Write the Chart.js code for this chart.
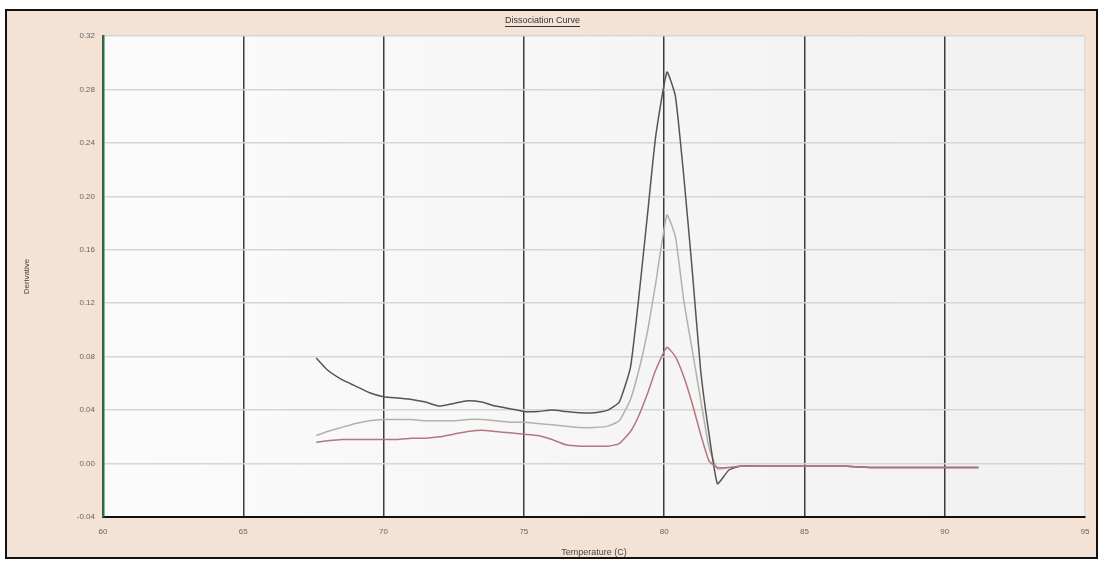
<!DOCTYPE html>
<html>
<head>
<meta charset="utf-8">
<script src="https://cdn.jsdelivr.net/npm/chart.js@4/dist/chart.umd.min.js"></script>
<style>
  html, body { margin: 0; padding: 0; background: #fff; }
  #wrap { width: 1104px; height: 569px; }
</style>
</head>
<body>
<div id="wrap"><canvas id="myChart" width="1104" height="569"></canvas></div>
<script>
// temperature readings (C), shared by all wells
const temperatures = [67.6, 68.0, 68.5, 69.0, 69.5, 70.0, 70.5, 71.0, 71.5, 72.0,
  72.5, 73.0, 73.5, 74.0, 74.5, 75.0, 75.5, 76.0, 76.5, 77.0, 77.5, 78.0, 78.4,
  78.8, 79.1, 79.4, 79.7, 80.1, 80.4, 80.7, 81.0, 81.3, 81.6, 81.9, 82.3, 82.7,
  83.5, 84.5, 85.5, 86.5, 87.5, 88.5, 89.5, 90.5, 91.2];

// derivative values
const wellDark = [0.079, 0.070, 0.063, 0.058, 0.053, 0.050, 0.049, 0.048, 0.046, 0.043,
  0.045, 0.047, 0.046, 0.043, 0.041, 0.039, 0.039, 0.040, 0.039, 0.038, 0.038, 0.040, 0.046,
  0.072, 0.125, 0.185, 0.245, 0.293, 0.275, 0.215, 0.145, 0.070, 0.022, -0.015, -0.005, -0.002,
  -0.002, -0.002, -0.002, -0.002, -0.003, -0.003, -0.003, -0.003, -0.003];
const wellLight = [0.021, 0.024, 0.027, 0.030, 0.032, 0.033, 0.033, 0.033, 0.032, 0.032,
  0.032, 0.033, 0.033, 0.032, 0.031, 0.031, 0.030, 0.029, 0.028, 0.027, 0.027, 0.028, 0.032,
  0.048, 0.070, 0.098, 0.135, 0.186, 0.170, 0.122, 0.085, 0.048, 0.012, -0.004, -0.003, -0.002,
  -0.002, -0.002, -0.002, -0.002, -0.003, -0.003, -0.003, -0.003, -0.003];
const wellRed = [0.016, 0.017, 0.018, 0.018, 0.018, 0.018, 0.018, 0.019, 0.019, 0.020,
  0.022, 0.024, 0.025, 0.024, 0.023, 0.022, 0.021, 0.018, 0.014, 0.013, 0.013, 0.013, 0.015,
  0.024, 0.036, 0.052, 0.070, 0.087, 0.080, 0.065, 0.045, 0.022, 0.002, -0.003, -0.003, -0.002,
  -0.002, -0.002, -0.002, -0.002, -0.003, -0.003, -0.003, -0.003, -0.003];

const xTicks = [60, 65, 70, 75, 80, 85, 90, 95];

function pts(values) {
  return temperatures.map((t, i) => ({ x: t, y: values[i] }));
}

// peach frame, black border, plot background, underlined title
const framePlugin = {
  id: 'frame',
  beforeDraw(chart) {
    const { ctx, chartArea: a } = chart;
    ctx.save();
    ctx.fillStyle = '#ffffff';
    ctx.fillRect(0, 0, chart.width, chart.height);
    ctx.fillStyle = '#f4e2d5';
    ctx.fillRect(6, 10, 1091, 548);
    ctx.strokeStyle = '#111';
    ctx.lineWidth = 2;
    ctx.strokeRect(6, 10, 1091, 548);
    const g = ctx.createLinearGradient(a.left, 0, a.right, 0);
    g.addColorStop(0, '#fbfbfb');
    g.addColorStop(1, '#f1f1f1');
    ctx.fillStyle = g;
    ctx.fillRect(a.left, a.top, a.right - a.left, a.bottom - a.top);
    ctx.restore();
  },
  afterDraw(chart) {
    const { ctx } = chart;
    const t = chart.titleBlock;
    ctx.save();
    ctx.font = '9px "Liberation Sans", Arial, sans-serif';
    const w = ctx.measureText('Dissociation Curve').width;
    const cx = (t.left + t.right) / 2;
    ctx.strokeStyle = '#333';
    ctx.lineWidth = 1;
    ctx.beginPath();
    ctx.moveTo(cx - w / 2, 26.5);
    ctx.lineTo(cx + w / 2, 26.5);
    ctx.stroke();
    ctx.restore();
  }
};

const tickFont = { family: '"Liberation Sans", Arial, sans-serif', size: 8 };

new Chart(document.getElementById('myChart').getContext('2d'), {
  type: 'line',
  data: {
    datasets: [
      { label: 'Well 3', data: pts(wellRed), borderColor: '#b47680', borderWidth: 1.5 },
      { label: 'Well 1', data: pts(wellDark), borderColor: '#555555', borderWidth: 1.5 },
      { label: 'Well 2', data: pts(wellLight), borderColor: '#b2b3a6', borderWidth: 1.5 }
    ]
  },
  options: {
    responsive: false,
    animation: false,
    parsing: false,
    tension: 0.15,
    pointRadius: 0,
    layout: { padding: { top: 10, right: 19, bottom: 0, left: 0 } },
    plugins: {
      legend: { display: false },
      tooltip: { enabled: false },
      title: {
        display: true,
        text: 'Dissociation Curve',
        color: '#333',
        font: { family: '"Liberation Sans", Arial, sans-serif', size: 9, weight: 'normal' },
        padding: { top: 5, bottom: 10.2 }
      }
    },
    scales: {
      x: {
        type: 'linear',
        min: 60,
        max: 95,
        afterBuildTicks: (s) => { s.ticks = xTicks.map(v => ({ value: v })); },
        afterFit: (s) => { s.height = 52; },
        ticks: { color: '#666', font: tickFont, padding: 10 },
        grid: {
          drawTicks: false,
          lineWidth: 1.5,
          color: (c) => (c.tick && c.tick.value === 95) ? '#dddddd' : '#3c3c3c'
        },
        border: { color: '#111', width: 2 },
        title: {
          display: true,
          text: 'Temperature (C)',
          color: '#444',
          font: { family: '"Liberation Sans", Arial, sans-serif', size: 9 },
          padding: { top: 0, bottom: 11 }
        }
      },
      y: {
        min: -0.04,
        max: 0.32,
        afterFit: (s) => { s.width = 103; },
        ticks: {
          stepSize: 0.04,
          color: '#666',
          font: tickFont,
          padding: 8,
          callback: (v) => v.toFixed(2)
        },
        grid: { drawTicks: false, lineWidth: 1.5, color: '#d6d6d6' },
        border: { color: '#2f6a3d', width: 2.5 },
        title: {
          display: true,
          text: 'Derivative',
          color: '#444',
          font: { family: '"Liberation Sans", Arial, sans-serif', size: 8 },
          padding: { top: 22, bottom: 0 }
        }
      }
    }
  },
  plugins: [framePlugin]
});
</script>
</body>
</html>
